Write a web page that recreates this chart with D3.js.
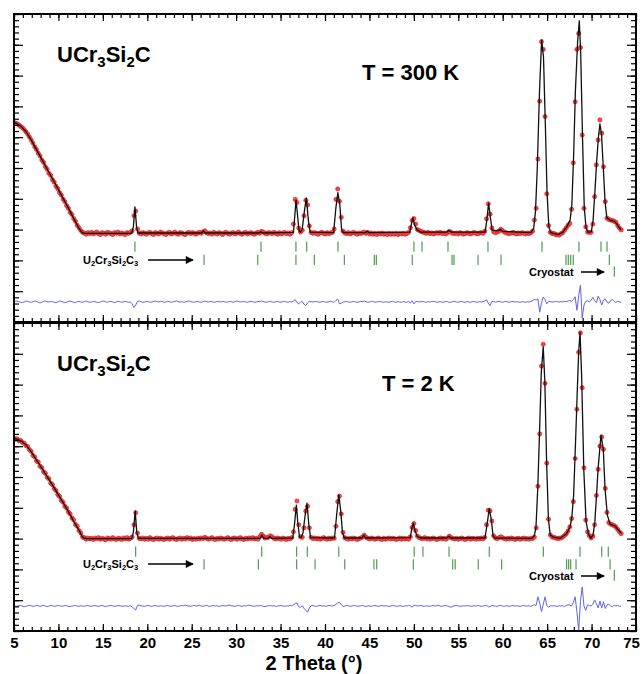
<!DOCTYPE html>
<html>
<head>
<meta charset="utf-8">
<script src="https://cdn.jsdelivr.net/npm/d3@7"></script>
<style>
  body { margin: 0; background: #fff; }
  svg text { font-family: "Liberation Sans", Arial, sans-serif; font-weight: bold; fill: #000; }
</style>
</head>
<body>
<svg id="chart" width="643" height="674"></svg>
<script>
'use strict';

// observed points sit on a regular 2theta grid
var obsStart = 4.94, obsStep = 0.1994;

// T = 300 K : observed counts, one row per degree
var obs300 = [
  649, 646, 644, 640, 635,  631, 625, 618, 610, 601,  591, 581, 569, 560, 548,
  539, 526, 518, 504, 496,  483, 476, 462, 454, 441,  433, 420, 412, 399, 391,
  378, 369, 356, 349, 336,  327, 314, 306, 297, 291,  289, 285, 290, 287, 291,
  286, 289, 292, 287, 284,  290, 288, 285, 291, 289,  287, 284, 290, 288, 292,
  286, 289, 287, 284, 290,  288, 291, 296, 345, 360,  302, 289, 286, 290, 288,
  285, 289, 291, 287, 284,  290, 288, 286, 292, 289,  287, 284, 289, 291, 286,
  288, 292, 287, 285, 290,  289, 286, 284, 289, 291,  287, 290, 288, 285, 289,
  291, 288, 293, 296, 290,  287, 289, 285, 291, 288,  286, 290, 288, 284, 289,
  291, 287, 285, 289, 290,  286, 288, 292, 287, 285,  289, 291, 286, 288, 290,
  287, 285, 289, 291, 288,  294, 292, 288, 286, 290,  289, 287, 291, 288, 285,
  290, 286, 288, 291, 287,  289, 285, 290, 318, 398,  388, 305, 292, 298, 345,
  395, 380, 312, 291, 288,  290, 287, 285, 289, 291,  288, 286, 290, 287, 289,
  291, 302, 398, 432, 392,  340, 295, 289, 287, 290,  286, 289, 291, 288, 285,
  289, 287, 290, 292, 288,  291, 286, 289, 285, 288,  284, 288, 286, 289, 285,
  287, 284, 288, 285, 287,  285, 288, 284, 287, 286,  288, 285, 287, 291, 306,
  330, 336, 318, 300, 297,  294, 292, 290, 288, 291,  287, 289, 286, 288, 290,
  288, 291, 287, 289, 286,  290, 294, 291, 288, 287,  289, 286, 290, 288, 285,
  287, 290, 288, 286, 289,  291, 288, 286, 289, 290,  288, 295, 335, 384, 350,
  305, 293, 290, 292, 295,  301, 297, 292, 290, 288,  287, 289, 291, 288, 286,
  289, 287, 290, 288, 286,  289, 287, 290, 295, 331,  369, 529, 717, 910, 885,
  667, 416, 313, 291, 287,  288, 284, 283, 282, 287,  290, 298, 306, 314, 320,
  366, 517, 715, 885, 937,  891, 607, 369, 309, 292,  291, 291, 318, 407, 510,
  591, 656, 613, 504, 391,  337, 333, 331, 330, 327,  324, 313, 305, 299
];

// T = 300 K : calculated profile [2theta, counts]
var calc300 = [
  [5.0, 648], [5.4, 643], [5.9, 632], [6.4, 616], [6.9, 593], [7.9, 540], [8.9, 488],
  [9.9, 435], [10.9, 382], [11.85, 329], [12.35, 302], [12.55, 294], [12.75, 289], [13.05, 288],
  [18.24, 288], [18.44, 310], [18.61, 374], [18.79, 310], [18.94, 289],
  [26.12, 289], [26.32, 296], [26.52, 289], [32.6, 289], [32.8, 293], [33.0, 289],
  [36.45, 291], [36.6, 345], [36.74, 396], [36.9, 350], [37.08, 296], [37.23, 292],
  [37.43, 300], [37.68, 360], [37.9, 403], [38.13, 330], [38.33, 292],
  [40.97, 290], [41.22, 370], [41.45, 420], [41.67, 380], [41.87, 300], [42.07, 290],
  [44.56, 290], [44.76, 295], [44.96, 290],
  [49.54, 292], [49.74, 320], [49.89, 339], [50.09, 315], [50.34, 300], [50.74, 292],
  [53.73, 292], [53.93, 297], [54.23, 292],
  [58.01, 292], [58.21, 330], [58.41, 386], [58.61, 340], [58.81, 298],
  [59.51, 296], [59.71, 301], [60.0, 294], [63.19, 290], [63.49, 305], [63.69, 360],
  [63.89, 500], [64.14, 750], [64.38, 916], [64.59, 860], [64.79, 650], [64.99, 420],
  [65.19, 310], [65.39, 290], [66.29, 284], [66.78, 292], [67.18, 308], [67.58, 330],
  [67.78, 380], [67.98, 540], [68.18, 750], [68.43, 910], [68.62, 978], [68.78, 870],
  [68.98, 600], [69.18, 370], [69.38, 305], [69.62, 291], [69.97, 293], [70.17, 330],
  [70.37, 420], [70.57, 520], [70.77, 600], [70.94, 643], [71.12, 610], [71.32, 500],
  [71.52, 390], [71.72, 338], [72.07, 331], [72.57, 327], [72.87, 317], [73.12, 306],
  [73.32, 299]
];

// T = 300 K : observed - calculated
var diff300 = [
  0, 2, 3, 1, -1,  -2, 0, 3, 2, 0,  -1, 1, 3, 2, -1,  -3, -1, 2, 3, 1,  0, 2, 1, -1, -2,
  0, 3, 2, 0, -2,  -1, 2, 3, 1, -1,  -2, 1, 2, 0, -1,  1, 3, 1, -1, 0,  2, 1, -1, -2, 0,
  2, 3, 1, -1, 1,  2, 0, -2, 0, 2,  1, -1, 0, 2, 1,  -1, 0, -6, -18, -10,  2, 3, 1, -1, 0,
  2, 1, -1, 0, 2,  3, 1, 0, 2, 1,  -1, 0, 2, 1, -1,  0, 2, 3, 1, 0,  1, -1, 0, 2, 3,
  1, 0, -1, 1, 2,  0, -1, 1, 3, 1,  0, 2, 1, -1, 0,  2, 1, 0, 2, 1,  -1, 0, 2, 1, -1,
  1, 3, 2, 0, 1,  2, 0, -1, 1, 2,  1, -1, 0, 2, 1,  3, 1, 0, -1, 1,  2, 0, -1, 1, 2,
  0, -1, 1, 2, 0,  -1, 1, 0, 3, 8,  -2, -6, -1, 2, -8,  -12, -3, 2, 1, 0,  1, 2, 0, -1, 1,
  2, 0, -1, 1, 2,  1, -1, 5, 9, -6,  -4, 0, 1, 2, 0,  -1, 1, 2, 0, -1,  0, 2, 1, 3, 1,
  -1, 0, 2, 1, -1,  0, 1, 2, 0, -1,  1, 0, -1, 1, 2,  0, -1, 1, 0, -1,  1, 0, -1, 2, -3,
  4, -6, 1, 2, 0,  1, 2, 0, -1, 1,  0, 1, 2, 1, -1,  0, 1, -1, 0, 2,  1, -2, 0, 1, 2,
  0, -1, 1, 2, 0,  -1, 1, 0, -1, 1,  2, 0, -1, 1, 0,  1, 3, 7, -4, -12,  2, 1, 0, 1, 2,
  0, -1, 1, 2, 0,  -1, 1, 2, 0, 1,  0, -1, 1, 0, -1,  1, 0, 2, 4, 8,  6, 10, -33, -4, 16,
  8, -6, 2, 1, 0,  0, 2, 1, 0, 1,  0, 2, 1, 3, 5,  2, 8, 17, -27, 20,  55, -52, -10, 2, 4,
  0, 6, 15, 4, -2,  19, 8, -10, 6, 10,  0, -4, 5, 8, 2,  -2, 3, 0, -1
];

// T = 2 K : observed counts
var obs2 = [
  627, 623, 624, 618, 619,  612, 610, 602, 599, 589,  583, 570, 565, 552, 548,
  535, 530, 517, 512, 499,  494, 480, 475, 462, 456,  443, 437, 424, 418, 405,
  399, 386, 380, 367, 361,  346, 340, 326, 318, 305,  303, 298, 302, 299, 301,
  297, 302, 300, 303, 298,  301, 299, 296, 302, 300,  298, 303, 299, 297, 301,
  300, 297, 302, 299, 303,  298, 301, 305, 345, 384,  318, 301, 299, 302, 298,
  301, 298, 303, 299, 297,  300, 302, 298, 301, 299,  297, 300, 302, 298, 301,
  303, 299, 297, 300, 302,  298, 301, 299, 303, 300,  302, 297, 300, 298, 301,
  299, 302, 300, 304, 301,  298, 300, 303, 299, 297,  301, 299, 302, 300, 298,
  300, 303, 299, 297, 301,  302, 298, 300, 303, 299,  297, 301, 299, 302, 300,
  303, 299, 301, 298, 306,  314, 308, 302, 303, 305,  309, 306, 301, 299, 302,
  300, 298, 302, 300, 297,  301, 299, 303, 322, 395,  422, 345, 306, 304, 335,
  390, 405, 335, 304, 300,  302, 299, 301, 298, 300,  303, 300, 298, 301, 299,
  302, 301, 340, 420, 438,  380, 320, 303, 300, 298,  301, 299, 302, 300, 297,
  300, 302, 305, 311, 304,  301, 299, 302, 300, 298,  300, 302, 299, 297, 301,
  298, 300, 302, 299, 301,  300, 297, 299, 302, 298,  301, 299, 300, 298, 306,
  336, 349, 326, 308, 303,  301, 300, 303, 299, 301,  298, 300, 302, 299, 297,
  300, 302, 299, 301, 298,  302, 308, 303, 300, 299,  301, 298, 300, 302, 299,
  297, 300, 302, 298, 301,  300, 298, 301, 299, 302,  299, 304, 345, 392, 390,
  357, 309, 302, 300, 303,  306, 303, 300, 298, 301,  299, 302, 300, 297, 300,
  301, 298, 300, 302, 299,  300, 298, 301, 300, 305,  335, 470, 640, 860, 931,
  804, 545, 363, 312, 305,  304, 302, 300, 301, 302,  305, 310, 316, 325, 338,
  365, 420, 560, 720, 905,  968, 790, 530, 360, 322,  310, 302, 308, 345, 440,
  525, 600, 630, 590, 463,  385, 352, 347, 345, 342,  338, 330, 322, 316
];

// T = 2 K : calculated profile [2theta, counts]
var calc2 = [
  [5.0, 625], [5.4, 622], [5.9, 615], [6.4, 603], [6.9, 583], [7.9, 539], [8.9, 494],
  [9.9, 447], [10.9, 399], [11.85, 350], [12.35, 325], [12.65, 308], [12.85, 302], [13.15, 300],
  [18.24, 300], [18.44, 322], [18.64, 390], [18.81, 322], [18.99, 301],
  [32.7, 301], [32.9, 312], [33.1, 301], [33.59, 301], [33.79, 307], [33.99, 301],
  [36.38, 302], [36.58, 350], [36.78, 409], [36.93, 355], [37.13, 306], [37.33, 303],
  [37.53, 320], [37.78, 380], [37.98, 415], [38.18, 345], [38.38, 303],
  [41.07, 302], [41.32, 380], [41.55, 442], [41.77, 390], [41.97, 320], [42.17, 302],
  [44.16, 302], [44.36, 311], [44.56, 302],
  [49.59, 303], [49.79, 335], [49.94, 350], [50.14, 325], [50.39, 307], [50.74, 302],
  [53.73, 302], [53.93, 308], [54.18, 302],
  [58.01, 302], [58.26, 350], [58.49, 398], [58.71, 362], [58.91, 310], [59.11, 302],
  [63.29, 301], [63.54, 308], [63.74, 335], [63.94, 460], [64.14, 640], [64.34, 840],
  [64.56, 923], [64.74, 810], [64.94, 550], [65.14, 365], [65.34, 312], [65.69, 305],
  [66.48, 301], [67.18, 316], [67.58, 338], [67.78, 370], [67.98, 440], [68.18, 600],
  [68.38, 770], [68.55, 905], [68.7, 970], [68.88, 830], [69.13, 520], [69.38, 355],
  [69.64, 317], [69.9, 301], [70.17, 312], [70.37, 355], [70.57, 447], [70.75, 533],
  [71.06, 636], [71.32, 590], [71.51, 463], [71.77, 377], [72.08, 347], [72.64, 341],
  [73.01, 328], [73.37, 317]
];

// T = 2 K : observed - calculated
var diff2 = [
  1, 0, -1, 1, 2,  0, -2, -1, 1, 2,  1, -1, 0, 2, 1,  -1, 1, 2, 0, -2,  0, 2, 1, -1, 0,
  2, 1, -1, 0, 2,  1, -1, -2, 0, 1,  2, 0, -1, 1, 0,  -1, 1, 2, 0, -1,  1, 2, 0, -1, 1,
  2, 0, -2, 0, 1,  2, 1, -1, 0, 2,  1, 0, -1, 1, 0,  -1, 1, -3, -8, -13,  2, 3, 1, 0, -1,
  1, 2, 0, -1, 1,  2, 0, -1, 1, 0,  -1, 1, 2, 0, -1,  1, 2, 0, -1, 1,  2, 1, 3, 1, 0,
  -1, 1, 2, 0, 1,  2, 0, -1, 1, 2,  0, -1, 1, 2, 0,  1, -1, 0, 2, 1,  0, 2, 3, 1, 0,
  -1, 1, 2, 0, -1,  1, 0, 2, 3, 1,  0, -1, 1, 0, 2,  1, -1, -2, 0, 1,  2, 0, 1, -1, 0,
  1, 2, 0, -1, 1,  0, 2, 1, 4, 8,  10, -2, -4, 1, -8,  -14, -20, -6, 1, 2,  0, -1, 1, 2, 0,
  1, -1, 0, 2, 1,  0, 2, 5, 10, 12,  4, -1, 0, 2, 1,  -1, 0, 2, 1, -1,  0, 1, 2, 0, -2,
  1, 0, -1, 1, 2,  0, -1, 1, 2, 0,  1, 0, -1, 0, 2,  1, -1, 0, 1, 0,  -1, 1, 0, 2, 1,
  -4, 3, 2, 0, 1,  2, 0, -1, 1, 0,  -1, 1, 2, 0, 1,  2, 0, -1, 1, 2,  0, -2, -4, 0, 1,
  2, 1, -1, 0, 1,  0, 2, 1, -1, 0,  1, 0, 2, 1, -1,  0, 1, 3, -3, -2,  2, 1, 0, -1, 1,
  2, 0, -1, 1, 0,  -1, 1, 2, 0, 1,  0, -1, 1, 2, 0,  0, 1, -1, 2, 4,  2, 30, 10, -18, 5,
  30, 2, -4, 1, 0,  1, 0, -1, 1, 0,  1, -2, 2, 4, 3,  0, 12, 30, -18, -78,  15, 62, 0, -14, 4,
  2, 0, 6, 20, 8,  -6, 16, -6, 14, -8,  4, 6, 1, -2, 3,  0, 2, -1, 0
];

// Bragg reflection positions (2theta)
var mainTicks300 = [18.61, 32.8, 36.73, 37.94, 41.46, 50.01, 50.92, 53.84, 58.34, 64.42, 68.58, 71.06, 71.74];
var impurityTicks300 = [26.39, 32.43, 36.73, 38.8, 42.18, 45.55, 45.78, 49.82, 54.3, 54.52, 57.22, 59.81, 67.12, 67.38, 67.65, 67.94, 72.0];
var cryostatTicks300 = [72.56];
var mainTicks2 = [18.69, 32.88, 36.81, 38.01, 41.55, 50.04, 51.02, 53.96, 58.49, 64.57, 68.7, 71.14, 71.88];
var impurityTicks2 = [26.39, 32.5, 36.81, 38.88, 42.22, 45.51, 45.82, 49.94, 54.37, 54.65, 57.25, 59.88, 67.19, 67.42, 67.65, 68.25, 72.08];
var cryostatTicks2 = [72.56];

var xTickLabels = [5, 10, 15, 20, 25, 30, 35, 40, 45, 50, 55, 60, 65, 70, 75];
var compound = [['UCr', 0], ['3', 1], ['Si', 0], ['2', 1], ['C', 0]];
var impurity = [['U', 0], ['2', 1], ['Cr', 0], ['3', 1], ['Si', 0], ['2', 1], ['C', 0], ['3', 1]];

var panels = [
  { top: 14, bottom: 322, obs: obs300, calc: calc300, diff: diff300, diffBase: 65,
    rows: [[mainTicks300, 228, 261], [impurityTicks300, 185, 218], [cryostatTicks300, 147, 180]],
    temp: 'T = 300 K', tempX: 362, tempY: 80, nameY: 62, shift: 0 },
  { top: 323, bottom: 631, obs: obs2, calc: calc2, diff: diff2, diffBase: 81,
    rows: [[mainTicks2, 241, 274], [impurityTicks2, 200, 233], [cryostatTicks2, 163, 198]],
    temp: 'T = 2 K', tempX: 382, tempY: 391, nameY: 371, shift: 304 }
];

var svg = d3.select('#chart');
var x = d3.scaleLinear().domain([5, 75]).range([14, 636]);
var xMinor = d3.range(5, 76, 1);

svg.append('defs').append('marker')
  .attr('id', 'head')
  .attr('viewBox', '0 0 10 10')
  .attr('refX', 9).attr('refY', 5)
  .attr('markerWidth', 9).attr('markerHeight', 8)
  .attr('markerUnits', 'userSpaceOnUse')
  .attr('orient', 'auto')
  .append('path').attr('d', 'M0,0L10,5L0,10z').attr('fill', '#000');

panels.forEach(drawPanel);

// bottom tick labels and title
svg.append('g')
  .attr('transform', 'translate(0,631)')
  .call(d3.axisBottom(x).tickValues(xTickLabels).tickSize(0).tickPadding(6.5).tickFormat(d3.format('d')))
  .call(function(g) {
    g.select('.domain').remove();
    g.selectAll('text').style('font-size', '15px').style('font-family', '"Liberation Sans", Arial, sans-serif');
    // last label is pulled in so that it stays inside the page
    g.selectAll('text').filter(function(d) { return d === 75; }).attr('dx', -5);
  });

svg.append('text')
  .attr('x', 314).attr('y', 669.5)
  .attr('text-anchor', 'middle')
  .style('font-size', '20px')
  .text('2 Theta (\u00b0)');

function drawPanel(p, i) {
  var y = d3.scaleLinear().domain([0, 1000]).range([p.bottom, p.top]);
  var g = svg.append('g');

  g.append('clipPath').attr('id', 'clip' + i)
    .append('rect')
    .attr('x', x(5)).attr('y', p.top)
    .attr('width', x(75) - x(5)).attr('height', p.bottom - p.top);

  var plot = g.append('g').attr('clip-path', 'url(#clip' + i + ')');

  // reflection markers
  p.rows.forEach(function(row) {
    plot.append('g').selectAll('line')
      .data(row[0])
      .enter().append('line')
      .attr('x1', function(d) { return x(d); })
      .attr('x2', function(d) { return x(d); })
      .attr('y1', y(row[1]))
      .attr('y2', y(row[2]))
      .attr('stroke', '#4f9d4f')
      .attr('stroke-width', 1.2);
  });

  // difference curve
  plot.append('path')
    .datum(p.diff)
    .attr('fill', 'none')
    .attr('stroke', '#6262ee')
    .attr('stroke-width', 1)
    .attr('d', d3.line()
      .x(function(d, k) { return x(obsStart + k * obsStep); })
      .y(function(d) { return y(p.diffBase + d); }));

  // observed points
  plot.append('g').selectAll('circle')
    .data(p.obs)
    .enter().append('circle')
    .attr('cx', function(d, k) { return x(obsStart + k * obsStep); })
    .attr('cy', function(d) { return y(d); })
    .attr('r', 2.1)
    .attr('fill', '#f24a4a')
    .attr('stroke', '#dd1111')
    .attr('stroke-width', 0.6);

  // calculated profile
  plot.append('path')
    .datum(p.calc)
    .attr('fill', 'none')
    .attr('stroke', '#111')
    .attr('stroke-width', 1.3)
    .attr('stroke-linejoin', 'round')
    .attr('d', d3.line()
      .x(function(d) { return x(d[0]); })
      .y(function(d) { return y(d[1]); }));

  // inward ticks on all four sides
  addAxis(g, d3.axisBottom(x).tickValues(xTickLabels).tickSize(7), 0, p.top);
  addAxis(g, d3.axisBottom(x).tickValues(xMinor).tickSize(4), 0, p.top);
  addAxis(g, d3.axisTop(x).tickValues(xTickLabels).tickSize(7), 0, p.bottom);
  addAxis(g, d3.axisTop(x).tickValues(xMinor).tickSize(4), 0, p.bottom);
  addAxis(g, d3.axisRight(y).tickValues(d3.range(0, 1001, 100)).tickSize(9), x(5), 0);
  addAxis(g, d3.axisRight(y).tickValues(d3.range(0, 1001, 20)).tickSize(5), x(5), 0);
  addAxis(g, d3.axisLeft(y).tickValues(d3.range(0, 1001, 100)).tickSize(9), x(75), 0);
  addAxis(g, d3.axisLeft(y).tickValues(d3.range(0, 1001, 20)).tickSize(5), x(75), 0);

  g.append('rect')
    .attr('x', x(5)).attr('y', p.top)
    .attr('width', x(75) - x(5)).attr('height', p.bottom - p.top)
    .attr('fill', 'none')
    .attr('stroke', '#000')
    .attr('stroke-width', 2);

  // annotations
  addFormula(g, compound, 57, p.nameY, 22);
  g.append('text')
    .attr('x', p.tempX).attr('y', p.tempY)
    .style('font-size', '22px')
    .text(p.temp);

  addFormula(g, impurity, 83, 264 + p.shift, 11);
  g.append('line')
    .attr('x1', 148).attr('x2', 193)
    .attr('y1', 260 + p.shift).attr('y2', 260 + p.shift)
    .attr('stroke', '#000').attr('stroke-width', 1.5)
    .attr('marker-end', 'url(#head)');

  g.append('text')
    .attr('x', 529).attr('y', 276 + p.shift)
    .style('font-size', '11px')
    .text('Cryostat');
  g.append('line')
    .attr('x1', 581).attr('x2', 604)
    .attr('y1', 272 + p.shift).attr('y2', 272 + p.shift)
    .attr('stroke', '#000').attr('stroke-width', 1.5)
    .attr('marker-end', 'url(#head)');
}

function addAxis(g, axis, tx, ty) {
  g.append('g')
    .attr('transform', 'translate(' + tx + ',' + ty + ')')
    .call(axis.tickFormat(''))
    .call(function(a) {
      a.select('.domain').remove();
      a.selectAll('line').attr('stroke', '#000').attr('stroke-width', 1.2);
    });
}

function addFormula(g, parts, x0, y0, size) {
  var t = g.append('text').attr('x', x0).attr('y', y0).style('font-size', size + 'px');
  var down = false;
  var drop = size * 0.22;
  parts.forEach(function(part) {
    var sub = part[1] === 1;
    var dy = sub && !down ? drop : (!sub && down ? -drop : 0);
    t.append('tspan')
      .attr('dy', dy)
      .style('font-size', sub ? (size * 0.68) + 'px' : null)
      .text(part[0]);
    down = sub;
  });
}
</script>
</body>
</html>
